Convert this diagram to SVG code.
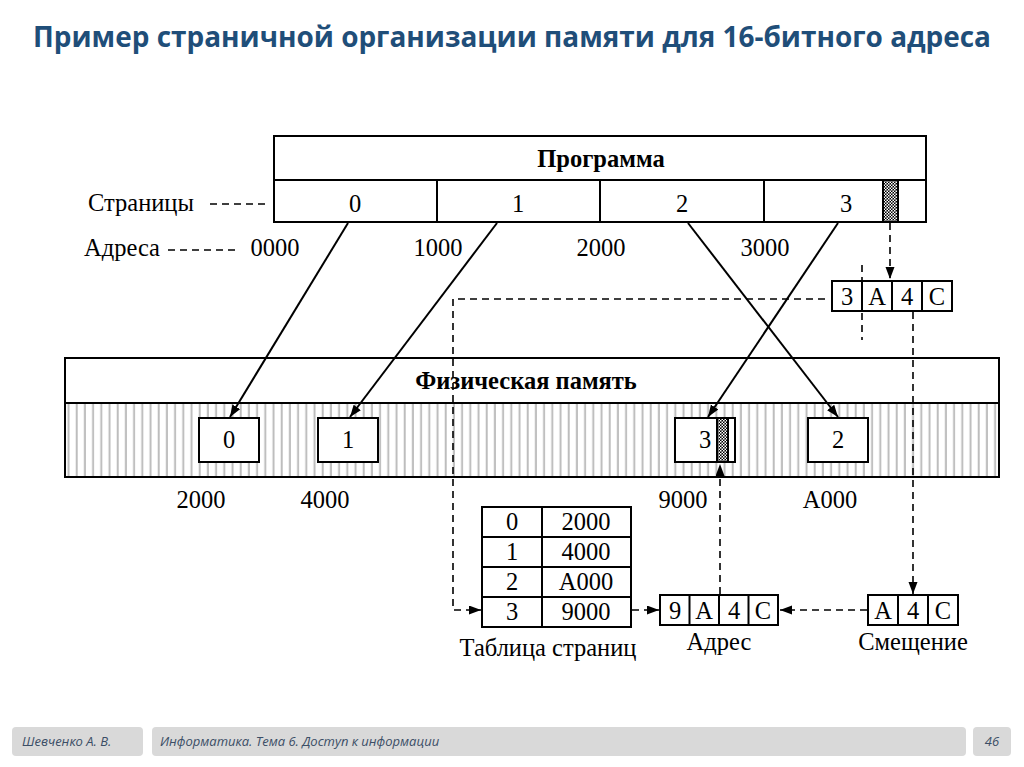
<svg xmlns="http://www.w3.org/2000/svg" width="1024" height="767" viewBox="0 0 1024 767">
<style>
.t{font-family:"Liberation Serif","Times New Roman",serif;font-size:24.5px;fill:#000;text-anchor:middle}
.b{font-weight:bold;font-size:24.5px}
.box{fill:#fff;stroke:#000;stroke-width:2}
.ln{stroke:#000;stroke-width:2;fill:none}
.ar{stroke:#000;stroke-width:2;fill:none;marker-end:url(#ah)}
.da{stroke:#000;stroke-width:1.6;fill:none;stroke-dasharray:7 5}
.dar{stroke:#000;stroke-width:1.6;fill:none;stroke-dasharray:7 5;marker-end:url(#ah)}
.ft{font-family:"Open Sans","Noto Sans",sans-serif;font-style:italic;font-size:13px;fill:#3b4e66}
.fb{fill:#d9d9d9}
</style>
<defs>
<marker id="ah" markerWidth="13" markerHeight="10" refX="12" refY="4.5" orient="auto" markerUnits="userSpaceOnUse">
<path d="M0,0 L12,4.5 L0,9 z" fill="#000"/>
</marker>
<pattern id="vl" x="65" y="0" width="8.2" height="10" patternUnits="userSpaceOnUse">
<rect x="2.5" y="0" width="2" height="10" fill="#bdbdbd"/>
</pattern>
<pattern id="dots" x="0" y="0" width="3" height="3" patternUnits="userSpaceOnUse">
<rect width="3" height="3" fill="#000"/>
<rect x="0" y="0" width="1.5" height="1.5" fill="#fff"/>
<rect x="1.5" y="1.5" width="1.5" height="1.5" fill="#fff"/>
</pattern>
</defs>
<rect width="1024" height="767" fill="#fff"/>
<text x="512" y="47" font-family="'Open Sans','Noto Sans',sans-serif" font-weight="bold" font-size="28" fill="#1f4e79" text-anchor="middle" textLength="958" lengthAdjust="spacingAndGlyphs">Пример страничной организации памяти для 16-битного адреса</text>

<g id="program">
<rect class="box" x="274" y="136" width="652" height="86"/>
<line class="ln" x1="274" y1="180" x2="926" y2="180"/>
<line class="ln" x1="437" y1="180" x2="437" y2="222"/>
<line class="ln" x1="600" y1="180" x2="600" y2="222"/>
<line class="ln" x1="764" y1="180" x2="764" y2="222"/>
<rect x="883" y="180" width="15" height="42" fill="url(#dots)" stroke="#000" stroke-width="2"/>
<text class="t b" x="601" y="167">Программа</text>
<text class="t" x="355" y="212">0</text>
<text class="t" x="518" y="212">1</text>
<text class="t" x="682" y="212">2</text>
<text class="t" x="846" y="212">3</text>
</g>

<g id="labels">
<text class="t" x="88" y="211" style="text-anchor:start">Страницы</text>
<line class="da" x1="210" y1="204" x2="266" y2="204" stroke-dasharray="5 4"/>
<text class="t" x="84" y="256" style="text-anchor:start">Адреса</text>
<line class="da" x1="168" y1="250" x2="238" y2="250" stroke-dasharray="5 4"/>
<text class="t" x="275" y="256">0000</text>
<text class="t" x="438" y="256">1000</text>
<text class="t" x="601" y="256">2000</text>
<text class="t" x="765" y="256">3000</text>
</g>

<g id="vaddr">
<rect class="box" x="832" y="281" width="120" height="30"/>
<line class="ln" x1="862" y1="281" x2="862" y2="311"/>
<line class="ln" x1="892" y1="281" x2="892" y2="311"/>
<line class="ln" x1="922" y1="281" x2="922" y2="311"/>
<text class="t" x="847" y="305">3</text>
<text class="t" x="877" y="305">A</text>
<text class="t" x="907" y="305">4</text>
<text class="t" x="937" y="305">C</text>
</g>

<g id="physmem">
<rect class="box" x="65" y="358" width="934" height="119"/>
<rect x="66" y="404" width="932" height="72" fill="url(#vl)"/>
<line class="ln" x1="65" y1="403" x2="999" y2="403"/>
<text class="t b" x="526" y="389">Физическая память</text>
<text class="t" x="201" y="508">2000</text>
<text class="t" x="325" y="508">4000</text>
<text class="t" x="683" y="508">9000</text>
<text class="t" x="830" y="508">A000</text>
</g>

<g id="frame0">
<rect class="box" x="199" y="418" width="60" height="44"/>
<text class="t" x="229" y="448">0</text>
</g>
<g id="frame1">
<rect class="box" x="318" y="418" width="60" height="44"/>
<text class="t" x="348" y="448">1</text>
</g>
<g id="frame3">
<rect class="box" x="675" y="418" width="60" height="44"/>
<rect x="717" y="418" width="11" height="44" fill="url(#dots)" stroke="#000" stroke-width="2"/>
<text class="t" x="705" y="448">3</text>
</g>
<g id="frame2">
<rect class="box" x="808" y="418" width="60" height="44"/>
<text class="t" x="838" y="448">2</text>
</g>

<g id="pagetable">
<rect class="box" x="482" y="507" width="149" height="120"/>
<line class="ln" x1="542" y1="507" x2="542" y2="627"/>
<line class="ln" x1="482" y1="537" x2="631" y2="537"/>
<line class="ln" x1="482" y1="567" x2="631" y2="567"/>
<line class="ln" x1="482" y1="597" x2="631" y2="597"/>
<text class="t" x="512" y="530">0</text>
<text class="t" x="586" y="530">2000</text>
<text class="t" x="512" y="560">1</text>
<text class="t" x="586" y="560">4000</text>
<text class="t" x="512" y="590">2</text>
<text class="t" x="586" y="590">A000</text>
<text class="t" x="512" y="620">3</text>
<text class="t" x="586" y="620">9000</text>
<text class="t" x="548" y="656">Таблица страниц</text>
</g>

<g id="paddr">
<rect class="box" x="660" y="595" width="118" height="30"/>
<line class="ln" x1="689.5" y1="595" x2="689.5" y2="625"/>
<line class="ln" x1="719" y1="595" x2="719" y2="625"/>
<line class="ln" x1="748.5" y1="595" x2="748.5" y2="625"/>
<text class="t" x="675" y="619">9</text>
<text class="t" x="704" y="619">A</text>
<text class="t" x="734" y="619">4</text>
<text class="t" x="763" y="619">C</text>
<text class="t" x="719" y="650">Адрес</text>
</g>

<g id="offset">
<rect class="box" x="868" y="595" width="90" height="30"/>
<line class="ln" x1="898" y1="595" x2="898" y2="625"/>
<line class="ln" x1="928" y1="595" x2="928" y2="625"/>
<text class="t" x="883" y="619">A</text>
<text class="t" x="913" y="619">4</text>
<text class="t" x="943" y="619">C</text>
<text class="t" x="913" y="650">Смещение</text>
</g>

<g id="connectors">
<line class="ar" x1="348" y1="223" x2="230" y2="417"/>
<line class="ar" x1="497" y1="223" x2="350" y2="417"/>
<line class="ar" x1="688" y1="223" x2="838" y2="417"/>
<line class="ar" x1="838" y1="223" x2="708" y2="417"/>
<line class="dar" x1="890" y1="223" x2="890" y2="279"/>
<line class="da" x1="862" y1="265" x2="862" y2="340"/>
<path class="dar" d="M825,299 L453,299 L453,610 L481,610"/>
<line class="dar" x1="913" y1="312" x2="913" y2="594"/>
<line class="dar" x1="867" y1="610" x2="780" y2="610"/>
<line class="dar" x1="632" y1="610" x2="659" y2="610"/>
<line class="dar" x1="720" y1="594" x2="720" y2="464"/>
</g>

<g id="footer">
<rect class="fb" x="12" y="727" width="131" height="29" rx="4"/>
<rect class="fb" x="152" y="727" width="814" height="29" rx="4"/>
<rect class="fb" x="973" y="727" width="38" height="29" rx="4"/>
<text class="ft" x="22" y="746">Шевченко А. В.</text>
<text class="ft" x="160" y="746">Информатика. Тема 6. Доступ к информации</text>
<text class="ft" x="992" y="746" text-anchor="middle">46</text>
</g>
</svg>
